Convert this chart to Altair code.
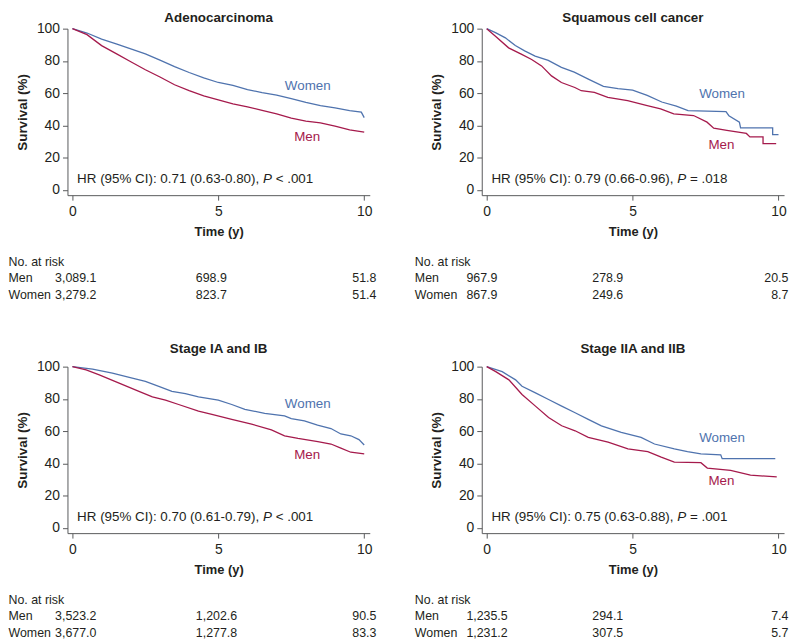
import altair as alt
import pandas as pd

FONT = "Liberation Sans"
BLUE = "#4f73ae"
RED = "#a51a4c"
INK = "#231f20"
AXC = "#58595b"
W, H = 305, 168
XDOM = [-0.17, 10.19]
YDOM = [-3.3, 100]

panel_titles = ["Adenocarcinoma", "Squamous cell cancer", "Stage IA and IB", "Stage IIA and IIB"]
groups = ["Women", "Men"]
x_ticks = [0, 5, 10]
y_ticks = [0, 20, 40, 60, 80, 100]
risk_times = [0, 5, 10]

# ---- survival curves (time in years, survival in %) ----
adeno_women_t = [0, 0.5, 1, 1.5, 2, 2.5, 3, 3.5, 4, 4.5, 5, 5.5, 6, 6.5, 7, 7.5, 8, 8.5, 9, 9.5, 9.9, 10]
adeno_women_s = [100, 97.3, 93.5, 90.5, 87.5, 84.3, 80.5, 76.5, 72.8, 69.5, 66.6, 64.8, 62.2, 60.3, 58.8, 56.6, 54.3, 52.3, 50.8, 49.2, 48.2, 44.8]
adeno_men_t = [0, 0.5, 1, 1.5, 2, 2.5, 3, 3.5, 4, 4.5, 5, 5.5, 6, 6.5, 7, 7.5, 8, 8.5, 9, 9.5, 10]
adeno_men_s = [100, 96.3, 89.5, 84.5, 79.5, 74.5, 70, 65.2, 61.5, 58.3, 55.8, 53.3, 51.5, 49.3, 47.2, 44.5, 42.7, 41.5, 39.5, 37.2, 35.8]

squam_women_t = [0, 0.3, 0.64, 0.98, 1.3, 1.66, 2.11, 2.56, 3.0, 3.5, 4.0, 4.5, 5.0, 5.5, 6.0, 6.5, 6.9, 8.2, 8.3, 8.66, 8.7, 9.8, 9.8, 10]
squam_women_s = [100, 97.5, 94.3, 89.5, 86.2, 83, 80.3, 76, 73, 68.5, 64.2, 62.8, 61.8, 58.6, 54.5, 52, 49.2, 48.5, 46, 42, 38.5, 38.5, 34.3, 34.3]
squam_men_t = [0, 0.3, 0.75, 1.2, 1.54, 1.88, 2.22, 2.56, 3.02, 3.24, 3.69, 4.15, 4.83, 5.5, 5.96, 6.41, 7.09, 7.55, 7.78, 8.23, 8.9, 9.02, 9.47, 9.47, 9.92]
squam_men_s = [100, 95.3, 88.1, 84, 80.9, 76.9, 70.7, 66.6, 63.5, 61.5, 60.5, 57.4, 55.3, 52.3, 50.2, 47.1, 46.1, 42, 38.3, 36.9, 35, 32.8, 32.8, 28.7, 28.7]

st1_women_t = [0, 0.69, 1.37, 2.05, 2.5, 2.96, 3.41, 3.87, 4.32, 5, 5.46, 5.91, 6.59, 7.27, 7.5, 7.95, 8.4, 8.86, 9.2, 9.54, 9.82, 10]
st1_women_s = [100, 98.4, 95.9, 92.9, 90.8, 87.8, 84.7, 83.3, 81.2, 79.2, 76.5, 73.5, 71, 69.4, 67.8, 66.3, 63.7, 61.6, 58.2, 57.1, 54.7, 51.4]
st1_men_t = [0, 0.47, 0.92, 1.6, 2.28, 2.74, 3.19, 3.64, 4.32, 4.78, 5.46, 6.14, 6.82, 7.27, 7.73, 8.41, 8.86, 9.2, 9.54, 10]
st1_men_s = [100, 98, 94.9, 89.8, 84.7, 81.2, 79.2, 76.5, 72.4, 70.4, 67.3, 64.3, 60.8, 57.1, 55.5, 53.5, 52, 49.4, 46.9, 45.9]

st2_women_t = [0, 0.53, 0.99, 1.21, 1.67, 2.12, 2.57, 3.03, 3.48, 3.93, 4.61, 5.29, 5.75, 6.43, 6.88, 7.34, 8.02, 8.07, 9.89]
st2_women_s = [100, 96.9, 91.8, 87.8, 83.7, 79.6, 75.5, 71.4, 67.3, 63.3, 59.2, 56.1, 52, 49, 47.3, 45.9, 45.3, 42.9, 42.9]
st2_men_t = [0, 0.31, 0.76, 1.21, 1.67, 2.12, 2.57, 3.03, 3.48, 4.16, 4.84, 5.52, 5.98, 6.43, 7.34, 7.56, 8.36, 9.04, 9.94]
st2_men_s = [100, 96.9, 91.8, 82.7, 75.5, 68.4, 63.3, 60.2, 56.1, 53.1, 49, 47.3, 43.9, 40.8, 40.4, 37.1, 35.7, 32.7, 31.6]

# ---- curve labels (position in data units) ----
label_t = [7.28, 7.6]
label_s = [[64.6, 32.8], [59.4, 27.7], [77.0, 45.3], [55.5, 29.0]]

# ---- hazard ratio annotations ----
hr_head = ["HR (95% CI): 0.71 (0.63-0.80), ", "HR (95% CI): 0.79 (0.66-0.96), ",
           "HR (95% CI): 0.70 (0.61-0.79), ", "HR (95% CI): 0.75 (0.63-0.88), "]
hr_p = "P"
hr_tail = ["< .001", "= .018", "< .001", "= .001"]
hr_pos = [0.16, 6.6]

# ---- numbers at risk ----
risk_header = "No. at risk"
risk_men = [["3,089.1", "698.9", "51.8"], ["967.9", "278.9", "20.5"],
            ["3,523.2", "1,202.6", "90.5"], ["1,235.5", "294.1", "7.4"]]
risk_women = [["3,279.2", "823.7", "51.4"], ["867.9", "249.6", "8.7"],
              ["3,677.0", "1,277.8", "83.3"], ["1,231.2", "307.5", "5.7"]]

curves = [
    (adeno_women_t, adeno_women_s, adeno_men_t, adeno_men_s),
    (squam_women_t, squam_women_s, squam_men_t, squam_men_s),
    (st1_women_t, st1_women_s, st1_men_t, st1_men_s),
    (st2_women_t, st2_women_s, st2_men_t, st2_men_s),
]

FS = 13.5
LFS = 14
TFS = 12.5

xaxis = alt.Axis(values=x_ticks, title="Time (y)", grid=False, tickSize=5, labelPadding=5,
                 titlePadding=7, labelFontSize=LFS, titleFontSize=13, titleFontWeight="bold",
                 labelFont=FONT, titleFont=FONT, labelColor=INK, titleColor=INK,
                 domainColor=AXC, tickColor=AXC, labelFlush=False, format="d")
yaxis = alt.Axis(values=y_ticks, title="Survival (%)", grid=False, tickSize=5, labelPadding=3,
                 titlePadding=7, labelFontSize=LFS, titleFontSize=FS, titleFontWeight="bold",
                 labelFont=FONT, titleFont=FONT, labelColor=INK, titleColor=INK,
                 domainColor=AXC, tickColor=AXC, labelFlush=False, format="d")


def make_panel(k):
    wt, ws, mt, ms = curves[k]
    left = k % 2 == 0
    top = k < 2
    rows = []
    for g, ts, ss in (("Women", wt, ws), ("Men", mt, ms)):
        for i, (t, s) in enumerate(zip(ts, ss)):
            rows.append({"t": t, "s": s, "group": g, "i": i})
    df = pd.DataFrame(rows)
    xs = alt.Scale(domain=XDOM, nice=False, zero=False)
    ys = alt.Scale(domain=YDOM, nice=False, zero=False)
    color = alt.Color("group:N", scale=alt.Scale(domain=groups, range=[BLUE, RED]), legend=None)
    X = alt.X("t:Q", scale=xs, axis=xaxis)
    Y = alt.Y("s:Q", scale=ys, axis=yaxis)

    lines = alt.Chart(df).mark_line(strokeWidth=1.3).encode(
        x=X, y=Y, color=color, detail="group:N", order="i:Q")

    ldf = pd.DataFrame({"t": label_t, "s": label_s[k], "group": groups})
    labels = alt.Chart(ldf).mark_text(align="left", baseline="middle", font=FONT, fontSize=FS).encode(
        x=X, y=Y, text="group:N", color=color)

    tdf = pd.DataFrame({"title": [panel_titles[k]]})
    title = alt.Chart(tdf).mark_text(align="center", baseline="alphabetic", font=FONT, fontSize=FS,
                                     fontWeight="bold", color=INK).encode(
        text="title:N", x=alt.value(W / 2), y=alt.value(-7 if top else -14))

    hdf = pd.DataFrame({"t": [hr_pos[0]], "s": [hr_pos[1]], "a": [hr_head[k]], "p": [hr_p], "b": [hr_tail[k]]})
    head_w = 13.894 * FS
    p_w = 0.667 * FS
    sp_w = 0.278 * FS
    hr_layers = []
    for field, dx, style in (("a", 0, "normal"), ("p", head_w, "italic"), ("b", head_w + p_w + sp_w, "normal")):
        hr_layers.append(alt.Chart(hdf).mark_text(align="left", baseline="middle", font=FONT, fontSize=FS,
                                                  fontStyle=style, color=INK, dx=dx).encode(
            x=X, y=Y, text=f"{field}:N"))

    # numbers-at-risk table
    row_y = [235, 252, 269]
    rowlab_x = -59.5 if left else -67.5
    col_dx = [(-17.5, "left"), (-22.7, "left"), (12.3, "right")] if left else \
             [(-20.5, "left"), (-40.7, "left"), (10.0, "right")]
    tbl = []
    for txt, yy in zip([risk_header, "Men", "Women"], row_y):
        tbl.append(alt.Chart(pd.DataFrame({"lab": [txt]})).mark_text(
            align="left", baseline="middle", font=FONT, fontSize=TFS, color=INK).encode(
            text="lab:N", x=alt.value(rowlab_x), y=alt.value(yy)))
    for vals, yy in ((risk_men[k], row_y[1]), (risk_women[k], row_y[2])):
        for j, (dx, al) in enumerate(col_dx):
            cdf = pd.DataFrame({"t": [risk_times[j]], "v": [vals[j]]})
            tbl.append(alt.Chart(cdf).mark_text(align=al, baseline="middle", font=FONT, fontSize=TFS,
                                                color=INK, dx=dx).encode(
                x=X, text="v:N", y=alt.value(yy)))

    return alt.layer(lines, labels, title, *hr_layers, *tbl).properties(width=W, height=H)


panels = [make_panel(k) for k in range(4)]
chart = alt.concat(*panels, columns=2, spacing={"row": 173, "column": 113}, bounds="flush").properties(
    padding=0).configure_view(stroke=None)

chart.save("out.html", embed_options={"renderer": "svg", "actions": False})
